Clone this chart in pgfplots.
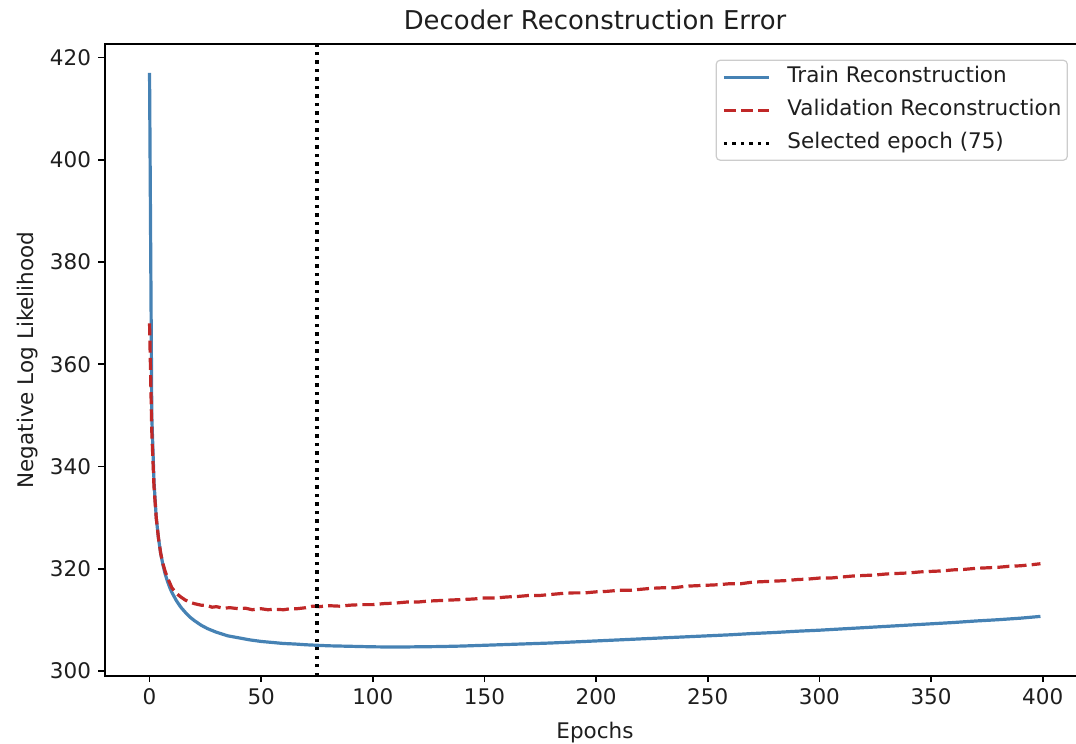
\documentclass[border=0pt]{standalone}
\usepackage{fontspec}
\setmainfont{DejaVu Sans}
\usepackage{pgfplots}
\pgfplotsset{compat=1.18}
\definecolor{trainblue}{RGB}{70,130,180}
\definecolor{valred}{RGB}{192,40,40}
\definecolor{txt}{RGB}{30,30,30}
\newcommand{\fs}{\fontsize{21.5}{26}\selectfont}
\begin{document}
\begin{tikzpicture}
\clip (-105pt,-68.3pt) rectangle (971pt,675.7pt);
\begin{axis}[
  scale only axis,
  width=980pt, height=631.4pt,
  xmin=-19.95, xmax=418.95,
  ymin=299.1, ymax=422.6,
  xtick={0,50,...,400},
  ytick={300,320,...,420},
  xtick pos=bottom, ytick pos=left,
  tick align=outside,
  major tick length=6.5pt,
  every tick/.style={line width=1.7pt, black},
  axis line style={line width=1.7pt, black},
  /pgf/number format/assume math mode=true,
  ticklabel style={font=\fs, text=txt},
  xticklabel style={yshift=-3pt},
  yticklabel style={xshift=-4pt},
  title={Decoder Reconstruction Error},
  title style={font=\fontsize{25.9}{31}\selectfont, text=txt, at={(axis description cs:0.5,1.030)}, anchor=center},
  xlabel={Epochs},
  xlabel style={font=\fs, text=txt, at={(axis description cs:0.5,-0.090)}, anchor=center},
  ylabel={Negative Log Likelihood},
  ylabel style={font=\fs, text=txt, at={(axis description cs:-0.079,0.5)}, anchor=center},
  legend cell align=left,
  legend style={at={(axis cs:411.3,419.6)}, anchor=north east, draw=black!20, line width=1.2pt,
    rounded corners=4pt, font=\fs, text=txt, fill=white, fill opacity=0.85, text opacity=1,
    inner xsep=4pt, inner ysep=5pt, row sep=9pt,
    nodes={inner sep=2pt, text height=15pt, text depth=5pt}},
  legend image code/.code={\draw[#1] (0pt,0pt) -- (45pt,0pt); \path (-2pt,0pt) (60pt,0pt);},
]
\addplot[trainblue, line width=3.2pt, line join=round] table {
0 417
1 350
2 337
3 330
4 326
5 323
6 320.8
7 319
8 317.6
9 316.4
10 315.4
12 313.8
14 312.5
16 311.5
18 310.6
20 309.9
23 309.0
26 308.3
30 307.6
35 306.9
40 306.5
45 306.1
50 305.8
55 305.6
60 305.4
65 305.3
70 305.15
75 305.05
80 304.95
90 304.85
100 304.75
110 304.7
120 304.75
130 304.8
140 304.9
150 305.05
160 305.2
170 305.35
180 305.5
190 305.7
200 305.9
210 306.1
220 306.3
230 306.5
240 306.7
250 306.9
260 307.1
270 307.35
280 307.55
290 307.8
300 308.0
310 308.25
320 308.5
330 308.75
340 309.0
350 309.25
360 309.5
370 309.8
380 310.05
390 310.35
399 310.7
};
\addlegendentry{Train Reconstruction}
\addplot[valred, line width=3.2pt, dash pattern=on 12pt off 5.2pt] table {
0 368
1 347
2 336
3 330
4 326
5 323
6 321
7 319.5
8 318.3
9 317.3
10 316.3
12 315.2
14 314.5
16 313.9
18 313.5
20 313.2
23 312.9
26 312.8
28 312.5
30 312.6
33 312.3
36 312.4
40 312.2
43 312.3
46 312.0
50 312.2
53 312.0
56 312.1
60 312.0
63 312.2
66 312.2
70 312.4
73 312.7
76 312.6
80 312.8
85 312.7
90 312.9
95 313.0
100 313.0
105 313.2
110 313.3
115 313.5
120 313.5
125 313.7
130 313.8
135 313.9
140 314.0
145 314.1
150 314.3
155 314.3
160 314.5
165 314.6
170 314.8
175 314.8
180 315.0
185 315.2
190 315.3
195 315.3
200 315.5
205 315.6
210 315.8
215 315.8
220 316.0
225 316.2
230 316.3
235 316.3
240 316.6
245 316.7
250 316.8
255 316.9
260 317.1
265 317.1
270 317.4
275 317.5
280 317.6
285 317.7
290 317.9
295 318.0
300 318.2
305 318.2
310 318.4
315 318.6
320 318.7
325 318.8
330 319.0
335 319.1
340 319.2
345 319.4
350 319.5
355 319.6
360 319.8
365 319.9
370 320.1
375 320.2
380 320.3
385 320.5
390 320.6
395 320.8
399 321.0
};
\addlegendentry{Validation Reconstruction}
\addplot[black, line width=3.2pt, dash pattern=on 3.2pt off 5.3pt] coordinates {(75,299.1) (75,422.6)};
\addlegendentry{Selected epoch (75)}
\end{axis}
\end{tikzpicture}
\end{document}
